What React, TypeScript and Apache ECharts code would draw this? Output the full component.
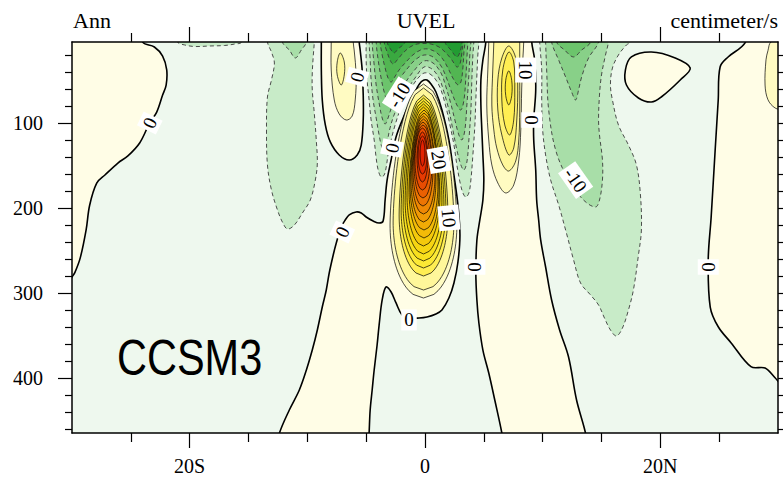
import React, { useEffect, useRef } from "react";
import * as echarts from "echarts";

// ---------- axis ticks / labels ----------
const lonMajorTicks = [-20, 0, 20];
const lonMinorTicks = [-25, -15, -10, -5, 5, 10, 15, 25];
const depthMajorTicks = [100, 200, 300, 400];
const depthMinorTicks = [20, 40, 60, 80, 120, 140, 160, 180, 220, 240, 260, 280, 320, 340, 360, 380, 420, 440, 460];
const titleLeft = "Ann";
const titleCenter = "UVEL";
const titleRight = "centimeter/s";
const caseName = "CCSM3";

// ---------- contour regions (lon, depth) ----------
// negative regions (dashed contours)
const neg2TopLeft = [[-21.2,-20],[-21.02,5],[-20.42,8.5],[-19.58,10.3],[-18.31,9.7],[-17.03,9.1],[-16.19,7.4],[-15.59,5],[-15.5,-20]];
const neg2West = [[-13.4,-20],[-13.39,5],[-13.05,16.8],[-12.8,29.7],[-13.05,49.7],[-13.39,69.7],[-13.47,108.5],[-13.39,149.7],[-13.05,179.1],[-12.54,202.6],[-12.12,216.8],[-11.69,225],[-11.1,220.3],[-10.42,206.2],[-9.75,190.9],[-9.32,167.4],[-9.15,147.4],[-9.24,120.3],[-9.41,88.5],[-9.58,61.5],[-9.58,41.5],[-9.49,20.3],[-9.41,5],[-9.4,-20]];
const neg4West = [[-12.2,-20],[-12.12,5],[-11.53,14.4],[-11.02,23.8],[-10.51,14.4],[-10.08,5],[-10.0,-20]];
const neg2East = [[9.75,-20],[9.75,5],[9.92,37.9],[9.92,73.2],[10.0,108.5],[10.25,137.9],[10.68,167.4],[11.36,196.8],[11.95,226.2],[12.63,261.5],[13.22,288.5],[14.07,302.6],[14.75,314.4],[15.25,329.7],[15.76,343.8],[16.27,350.9],[16.78,341.5],[17.29,320.3],[17.71,296.8],[18.14,255.6],[18.39,226.2],[18.31,185],[17.97,149.7],[17.29,126.2],[16.44,102.6],[15.93,73.2],[15.76,55.6],[15.93,35.6],[16.44,20.3],[17.12,8.5],[17.46,5],[17.6,-20]];
const neg4East = [[10.2,-20],[10.25,5],[10.34,37.9],[10.51,85],[11.1,132],[12.2,167.4],[13.47,190.9],[14.49,199.1],[14.83,190.9],[15.08,167.4],[15.08,143.8],[14.83,114.4],[14.75,96.8],[14.83,67.4],[15.0,43.8],[15.34,20.3],[15.59,5],[15.7,-20]];
const neg6East = [[10.7,-20],[10.76,5],[11.36,26.2],[11.95,46.2],[12.46,63.8],[12.8,73.2],[13.05,61.5],[13.31,46.2],[13.9,23.8],[14.75,5],[14.8,-20]];
const neg8East = [[11.1,-20],[11.19,5],[11.86,14.4],[12.63,22.6],[13.31,14.4],[14.07,5],[14.1,-20]];
const neg2Center = [[-5.0,-20],[-5.0,5],[-5.0,26.2],[-4.92,49.7],[-4.75,73.2],[-4.58,96.8],[-4.32,120.3],[-4.15,141.5],[-3.98,155.6],[-3.73,163.8],[-3.47,161.5],[-3.31,153.2],[-3.14,137.9],[-2.88,120.3],[-2.54,102.6],[-2.12,85],[-1.61,69.7],[-1.02,55.6],[-0.51,46.2],[-0.08,41.5],[0.42,42.6],[0.93,49.7],[1.36,61.5],[1.78,81.5],[2.12,102.6],[2.46,126.2],[2.71,149.7],[2.97,169.7],[3.22,182.6],[3.47,187.4],[3.73,182.6],[3.9,167.4],[4.07,137.9],[4.24,102.6],[4.32,73.2],[4.41,43.8],[4.49,20.3],[4.58,5],[4.6,-20]];
const neg4Center = [[-4.75,-20],[-4.75,5],[-4.66,26.2],[-4.58,49.7],[-4.41,73.2],[-4.15,94.4],[-3.9,114.4],[-3.64,129.7],[-3.39,132],[-3.22,122.6],[-2.97,106.2],[-2.63,90.9],[-2.12,75.6],[-1.53,61.5],[-0.85,47.4],[-0.08,34.4],[0.59,36.8],[1.19,47.4],[1.61,63.8],[2.03,85],[2.37,108.5],[2.71,132],[3.05,149.7],[3.31,155.6],[3.56,146.2],[3.73,120.3],[3.9,85],[3.98,49.7],[4.07,20.3],[4.15,5],[4.2,-20]];
const neg6Center = [[-4.49,-20],[-4.49,5],[-4.32,32.1],[-4.15,55.6],[-3.9,76.8],[-3.64,94.4],[-3.39,101.5],[-3.14,94.4],[-2.8,80.3],[-2.29,66.2],[-1.69,53.2],[-1.02,40.3],[-0.08,27.4],[0.68,29.7],[1.36,41.5],[1.78,57.9],[2.2,77.9],[2.54,96.8],[2.88,114.4],[3.14,120.3],[3.39,108.5],[3.56,79.1],[3.73,43.8],[3.81,20.3],[3.9,5],[3.95,-20]];
const neg8Center = [[-4.15,-20],[-4.15,5],[-3.98,26.2],[-3.73,47.4],[-3.47,63.8],[-3.22,73.2],[-2.97,69.7],[-2.63,59.1],[-2.12,47.4],[-1.53,36.8],[-0.85,26.2],[-0.08,20.3],[0.68,22.6],[1.36,33.2],[1.86,48.5],[2.29,65],[2.71,79.1],[3.05,85],[3.31,73.2],[3.47,47.4],[3.56,23.8],[3.64,5],[3.7,-20]];
const neg10Center = [[-3.81,-20],[-3.81,5],[-3.64,20.3],[-3.39,35.6],[-3.14,47.4],[-2.88,52.1],[-2.63,47.4],[-2.2,37.9],[-1.61,28.5],[-0.93,19.1],[-0.08,13.2],[0.76,15.6],[1.44,23.8],[1.95,35.6],[2.37,47.4],[2.8,55.6],[3.05,52.1],[3.22,35.6],[3.31,16.8],[3.39,5],[3.4,-20]];
const neg12Center = [[-3.47,-20],[-3.47,5],[-3.22,16.8],[-2.97,26.2],[-2.71,30.9],[-2.37,26.2],[-1.86,17.9],[-1.27,10.9],[-0.68,7.4],[-0.08,6.8],[0.51,7.4],[1.19,10.9],[1.78,17.9],[2.29,26.2],[2.71,34.4],[2.97,30.9],[3.14,16.8],[3.22,5],[3.25,-20]];
const neg14CenterWest = [[-3.3,-20],[-3.22,5],[-2.88,14.4],[-2.63,17.9],[-2.29,13.2],[-1.69,5],[-1.6,-20]];
const neg14CenterEast = [[1.6,-20],[1.69,5],[2.2,14.4],[2.71,22.6],[2.97,16.8],[3.14,5],[3.2,-20]];

// positive regions (solid contours)
const pos0WestEdge = [[-24.0,-20],[-24.0,5],[-23.0,10.9],[-22.3,21.5],[-21.95,37.9],[-22.0,55.6],[-22.3,67.4],[-22.8,87.4],[-23.4,100.3],[-24.25,123.8],[-25.25,139],[-26.1,147.4],[-27.2,161.5],[-27.9,171],[-28.5,197],[-28.8,226],[-29.3,259],[-29.75,276],[-30.0,281.5],[-30.5,292],[-33,300],[-33,-20]];
const pos0WestLobe = [[-8.81,-20],[-8.81,5],[-8.81,37.9],[-8.73,73.2],[-8.47,102.6],[-8.05,122.6],[-7.29,137.9],[-6.44,143.8],[-5.76,137.9],[-5.42,126.2],[-5.25,96.8],[-5.25,67.4],[-5.34,37.9],[-5.51,14.4],[-5.59,5],[-5.59,-20]];
const pos2WestLobe = [[-7.97,-20],[-7.97,5],[-7.97,37.9],[-7.71,73.2],[-7.29,89.7],[-6.69,96.8],[-6.19,92.1],[-5.93,73.2],[-5.85,43.8],[-6.02,14.4],[-6.1,5],[-6.1,-20]];
const pos4WestLobe = [[-7.2,17.9],[-6.86,28.5],[-6.86,43.8],[-7.12,55.6],[-7.46,43.8],[-7.46,28.5]];
const pos0Jet = [[-12.8,490],[-12.37,465],[-11.53,437.9],[-10.68,414.4],[-10.08,390.9],[-9.58,367.4],[-9.15,343.8],[-8.73,316.8],[-8.39,296.8],[-8.14,276.8],[-7.8,255.6],[-7.54,241.5],[-7.12,222.6],[-6.78,214.4],[-6.44,208.5],[-5.85,205],[-5.42,206.2],[-5.0,210.9],[-4.41,215.6],[-3.9,218],[-3.56,215.6],[-3.39,190.9],[-3.22,167.4],[-2.88,143.8],[-2.46,116.8],[-1.86,94.4],[-1.36,77.9],[-0.68,59.1],[-0.34,52.1],[-0.08,49.7],[0.17,49.7],[0.51,54.4],[0.93,63.8],[1.44,85],[2.03,120.3],[2.46,161.5],[2.8,196.8],[2.97,232],[2.8,263.8],[2.46,288.5],[2.03,306.2],[1.44,320.3],[0.93,325],[0.17,328.5],[-0.51,329.7],[-1.36,329.7],[-1.95,326.2],[-2.46,312],[-2.88,299.1],[-3.31,293.2],[-3.64,308.5],[-3.9,338],[-4.07,361.5],[-4.32,390.9],[-4.49,414.4],[-4.66,437.9],[-4.75,465],[-4.85,490]];
const pos0EastLobe = [[5.17,-20],[5.17,5],[4.92,26.2],[4.75,49.7],[4.75,79.1],[4.83,108.5],[4.92,137.9],[5.0,167.4],[4.92,190.9],[4.66,214.4],[4.41,237.9],[4.32,276.8],[4.41,308.5],[4.58,335.6],[4.92,367.4],[5.42,394.4],[5.93,426.2],[6.53,465],[6.8,490],[13.9,490],[13.64,465],[12.88,426.2],[12.2,375.6],[11.44,343.8],[10.76,308.5],[10.25,269.7],[9.83,237.9],[9.66,214.4],[9.49,190.9],[9.41,155.6],[9.24,120.3],[9.24,96.8],[9.41,61.5],[9.32,26.2],[9.07,5],[9.07,-20]];
const pos2EastLobe = [[5.42,-20],[5.42,5],[5.34,37.9],[5.25,79.1],[5.42,120.3],[5.68,149.7],[6.19,170.9],[6.86,182.6],[7.54,173.2],[7.97,143.8],[8.14,108.5],[8.22,59.1],[8.31,26.2],[8.39,5],[8.39,-20]];
const pos4EastLobe = [[5.85,-20],[5.85,5],[5.76,37.9],[5.68,79.1],[5.85,108.5],[6.1,129.7],[6.61,149.7],[7.12,156.8],[7.71,145],[7.97,120.3],[8.05,85],[8.05,39.1],[8.05,5],[8.05,-20]];
const pos6EastLobe = [[7.12,9.7],[7.71,23.8],[7.88,55.6],[7.8,96.8],[7.54,129.7],[7.12,137.9],[6.53,114.4],[6.19,85],[6.19,49.7],[6.53,23.8]];
const pos8EastLobe = [[7.12,16.8],[7.54,28.5],[7.63,61.5],[7.54,96.8],[7.2,114.4],[6.78,102.6],[6.53,73.2],[6.61,37.9]];
const pos10EastLobe = [[7.12,39],[7.37,50],[7.37,68],[7.12,79],[6.86,68],[6.86,50]];
const pos0Island = [[17.03,38],[17.54,22.6],[19.24,16.8],[21.27,23.8],[22.54,35.6],[21.69,49.7],[20.08,69.7],[19.24,75.6],[18.14,70.9],[17.12,55.6]];
const pos0EastEdge = [[27.6,-20],[27.2,6],[25.76,22.6],[25.08,34.4],[24.92,73.2],[24.66,132],[24.32,210.9],[24.07,261.5],[24.24,316.8],[24.92,340],[26.02,359],[27.7,387],[28.9,388.6],[29.75,400],[30.5,410],[33,410],[33,-20]];
const pos2EastEdge = [[30.5,0],[29.4,5],[29.15,15],[28.98,26],[28.9,55.6],[29.15,73],[29.75,82.6],[30.5,85],[33,85],[33,0]];

// jet core rings: [level, tip depth, bottom depth, west lon, east lon, depth of widest]
const jetRings = [
  [2, 54.4, 306.2, -2.97, 2.71, 220.3],
  [4, 59.1, 296.8, -2.71, 2.46, 216.8],
  [6, 63.8, 288.5, -2.46, 2.2, 212.1],
  [8, 67.4, 280.3, -2.2, 1.95, 208.5],
  [10, 70.9, 270.9, -2.03, 1.78, 202.6],
  [12, 74.4, 262.6, -1.86, 1.61, 196.8],
  [14, 77.9, 254.4, -1.69, 1.44, 190.9],
  [16, 81.5, 245, -1.53, 1.27, 185],
  [18, 85, 235.6, -1.36, 1.19, 179.1],
  [20, 88.5, 226.2, -1.27, 1.1, 173.2],
  [22, 92.1, 216.8, -1.19, 0.93, 167.4],
  [24, 95.6, 207.4, -1.1, 0.85, 161.5],
  [26, 99.1, 198, -1.02, 0.68, 155.6],
  [28, 102.6, 188.5, -0.93, 0.59, 149.7],
  [30, 106.2, 179.1, -0.85, 0.42, 143.8],
  [32, 110.9, 169.7, -0.68, 0.25, 140.3],
  [34, 115.6, 160.3, -0.59, 0.17, 137.9],
  [36, 120.3, 150.9, -0.42, 0.0, 135.6],
];

// contour labels: [lon, depth, text, angle in degrees]
const contourLabels = [
  [-23.39, 100.3, "0", 64],
  [-5.76, 46.2, "0", 75],
  [-2.2, 67.4, "-10", 58],
  [-2.8, 129.7, "0", 78],
  [1.19, 143.8, "20", -80],
  [2.03, 212, "10", -85],
  [-7.03, 228.5, "0", 65],
  [-1.36, 332, "0", 0],
  [4.24, 269.7, "0", 90],
  [8.56, 38, "10", -90],
  [9.07, 96.8, "0", 90],
  [12.8, 167.4, "-10", -55],
  [24.07, 269.7, "0", 90],
];

// ---------- colours (style) ----------
const BG = "#eef8ee";
const posColors = {
  0: "#fffde6", 2: "#fffbc2", 4: "#fff79a", 6: "#fff273", 8: "#ffee52", 10: "#fce935",
  12: "#f8e01e", 14: "#f6d512", 16: "#f4c90c", 18: "#f3bb08", 20: "#f2ab06", 22: "#f09a05",
  24: "#ef8804", 26: "#ed7503", 28: "#eb6002", 30: "#e94c02", 32: "#e73a02", 34: "#e52c02", 36: "#e32202",
};
const negColors = { "-2": "#c8ebc8", "-4": "#a8dea8", "-6": "#88d088", "-8": "#6cc46c", "-10": "#52b652", "-12": "#3aa940", "-14": "#229c32" };

function ringPoints(ring) {
  const [, T, B, W, E, D] = ring;
  const cx = (W + E) / 2;
  const hw = (E - W) / 2;
  const n = 20;
  const right = [];
  for (let i = 0; i <= n; i++) {
    const d = T + ((D - T) * i) / n;
    const s = (D - d) / (D - T);
    right.push([cx + hw * Math.sqrt(Math.max(0, 1 - Math.pow(s, 1.6))), d]);
  }
  for (let i = 1; i <= n; i++) {
    const d = D + ((B - D) * i) / n;
    const s = (d - D) / (B - D);
    right.push([cx + hw * Math.sqrt(Math.max(0, 1 - s * s)), d]);
  }
  const left = right.slice(1, -1).reverse().map(([x, d]) => [2 * cx - x, d]);
  return right.concat(left);
}

function buildLayers() {
  const neg = [
    [-2, neg2TopLeft], [-2, neg2West], [-4, neg4West],
    [-2, neg2East], [-4, neg4East], [-6, neg6East], [-8, neg8East],
    [-2, neg2Center], [-4, neg4Center], [-6, neg6Center], [-8, neg8Center],
    [-10, neg10Center], [-12, neg12Center], [-14, neg14CenterWest], [-14, neg14CenterEast],
  ].map(([level, pts]) => ({ level, pts, smooth: 0.35 }));
  const pos = [
    [0, pos0WestEdge], [0, pos0WestLobe], [0, pos0Jet], [0, pos0EastLobe], [0, pos0Island], [0, pos0EastEdge],
    [2, pos2WestLobe], [4, pos4WestLobe],
    [2, pos2EastLobe], [4, pos4EastLobe], [6, pos6EastLobe], [8, pos8EastLobe], [10, pos10EastLobe],
    [2, pos2EastEdge],
  ].map(([level, pts]) => ({ level, pts, smooth: 0.35 }));
  const jet = jetRings.map((r) => ({ level: r[0], pts: ringPoints(r), smooth: 0 }));
  const all = pos.concat(jet);
  all.sort((a, b) => a.level - b.level);
  return neg.concat(all);
}

const serif = "Liberation Serif";

export default function App() {
  const ref = useRef(null);
  useEffect(() => {
    const chart = echarts.init(ref.current, null, { renderer: "svg" });
    const layers = buildLayers();
    const axisLine = { show: true, onZero: false, lineStyle: { color: "#000", width: 1.5 } };
    const noLine = { show: false, onZero: false };
    const tickStyle = { color: "#000", width: 1.2 };
    const xBase = { type: "value", min: -30, max: 30, splitLine: { show: false }, z: 10 };
    const yBase = { type: "value", min: 5, max: 465, inverse: true, splitLine: { show: false }, z: 10 };
    const lonFmt = (v) => (v < 0 ? `${-v}S` : v > 0 ? `${v}N` : "0");
    chart.setOption({
      animation: false,
      backgroundColor: "#fff",
      grid: { left: 72, top: 42, width: 706, height: 391, show: true, backgroundColor: BG, borderWidth: 0, containLabel: false, outerBoundsMode: "none" },
      xAxis: [
        { ...xBase, position: "bottom", axisLine, axisTick: { show: true, length: 15, customValues: lonMajorTicks, lineStyle: tickStyle },
          axisLabel: { show: true, customValues: lonMajorTicks, formatter: lonFmt, fontFamily: serif, fontSize: 20, color: "#000", margin: 23 } },
        { ...xBase, position: "bottom", axisLine: noLine, axisTick: { show: true, length: 9, customValues: lonMinorTicks, lineStyle: tickStyle }, axisLabel: { show: false } },
        { ...xBase, position: "top", axisLine, axisTick: { show: true, length: 15, customValues: lonMajorTicks, lineStyle: tickStyle }, axisLabel: { show: false } },
        { ...xBase, position: "top", axisLine: noLine, axisTick: { show: true, length: 9, customValues: lonMinorTicks, lineStyle: tickStyle }, axisLabel: { show: false } },
      ],
      yAxis: [
        { ...yBase, position: "left", axisLine, axisTick: { show: true, length: 14, customValues: depthMajorTicks, lineStyle: tickStyle },
          axisLabel: { show: true, customValues: depthMajorTicks, fontFamily: serif, fontSize: 20, color: "#000", margin: 29 } },
        { ...yBase, position: "left", axisLine: noLine, axisTick: { show: true, length: 7, customValues: depthMinorTicks, lineStyle: tickStyle }, axisLabel: { show: false } },
        { ...yBase, position: "right", axisLine, axisTick: { show: true, length: 14, customValues: depthMajorTicks, lineStyle: tickStyle }, axisLabel: { show: false } },
        { ...yBase, position: "right", axisLine: noLine, axisTick: { show: true, length: 7, customValues: depthMinorTicks, lineStyle: tickStyle }, axisLabel: { show: false } },
      ],
      series: [
        {
          type: "custom",
          coordinateSystem: "cartesian2d",
          xAxisIndex: 0,
          yAxisIndex: 0,
          clip: true,
          silent: true,
          data: layers.map(() => [0, 100]),
          renderItem: (params, api) => {
            const r = layers[params.dataIndex];
            const pts = r.pts.map((p) => api.coord(p));
            const isNeg = r.level < 0;
            return {
              type: "polygon",
              shape: { points: pts, smooth: r.smooth },
              style: {
                fill: isNeg ? negColors[String(r.level)] : posColors[r.level],
                stroke: isNeg ? "#3a3a3a" : "#000",
                lineWidth: r.level === 0 ? 1.6 : isNeg ? 0.9 : 0.7,
                lineDash: isNeg ? [4, 3] : null,
              },
            };
          },
          z: 2,
        },
        {
          type: "custom",
          coordinateSystem: "cartesian2d",
          xAxisIndex: 0,
          yAxisIndex: 0,
          clip: true,
          silent: true,
          data: contourLabels.map(() => [0, 100]),
          renderItem: (params, api) => {
            const [lon, dep, txt, ang] = contourLabels[params.dataIndex];
            const [x, y] = api.coord([lon, dep]);
            return {
              type: "text",
              x, y,
              rotation: (ang * Math.PI) / 180,
              style: {
                text: txt, fill: "#000", fontFamily: serif, fontSize: 19,
                align: "center", verticalAlign: "middle",
                backgroundColor: "#fff", padding: [1, 3],
              },
            };
          },
          z: 5,
        },
      ],
      graphic: {
        elements: [
          { type: "text", x: 73, y: 31, z: 100, style: { text: titleLeft, fontFamily: serif, fontSize: 22, fill: "#000", align: "left", verticalAlign: "bottom" } },
          { type: "text", x: 426, y: 31, z: 100, style: { text: titleCenter, fontFamily: serif, fontSize: 22, fill: "#000", align: "center", verticalAlign: "bottom" } },
          { type: "text", x: 778, y: 31, z: 100, style: { text: titleRight, fontFamily: serif, fontSize: 22, fill: "#000", align: "right", verticalAlign: "bottom" } },
          { type: "text", x: 117, y: 358, scaleX: 0.83, z: 100, style: { text: caseName, fontFamily: "Liberation Sans", fontSize: 50, fill: "#000", align: "left", verticalAlign: "middle" } },
        ],
      },
    });
    return () => chart.dispose();
  }, []);
  return <div ref={ref} style={{ position: "fixed", left: 0, top: 0, width: 783, height: 477, background: "#fff" }} />;
}
